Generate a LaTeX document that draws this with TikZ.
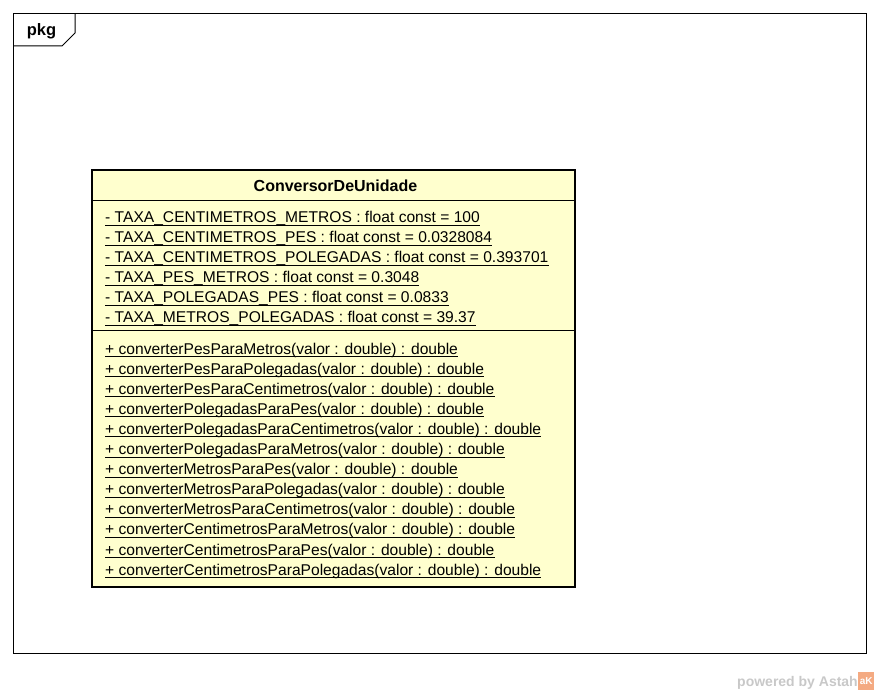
\documentclass[tikz,border=0pt]{standalone}
\usepackage{fontspec}
\setmainfont{Liberation Sans}
\definecolor{classfill}{RGB}{255,255,206}
\definecolor{powergray}{RGB}{200,200,200}
\definecolor{logoorange}{RGB}{244,170,130}
\tikzset{
  pkgframe/.style={draw=black, line width=1pt},
  classbox/.style={draw=black, line width=2pt, fill=classfill},
  sepline/.style={draw=black, line width=1pt},
  member/.style={anchor=base west, inner sep=0pt, font=\fontsize{15.6}{18}\selectfont},
  ulline/.style={draw=black, line width=0.9pt},
}
\begin{document}
\begin{tikzpicture}[x=1pt, y=-1pt]
\useasboundingbox (0,0) rectangle (880,693);
% package frame
\draw[pkgframe] (13.5,13.5) rectangle (866.5,653.5);
\draw[pkgframe] (13.5,46) -- (62,46) -- (75,33) -- (75,13.5);
\node[inner sep=0pt, font=\bfseries\fontsize{16.5}{18}\selectfont] (pkg) at (41.5,31) {pkg};
% class box
\draw[classbox] (92,170) rectangle (575,587);
\coordinate (s1l) at (92,200); \coordinate (s1r) at (575,200);
\coordinate (s2l) at (92,330); \coordinate (s2r) at (575,330);
\draw[sepline] (s1l) -- (s1r);
\draw[sepline] (s2l) -- (s2r);
\node[inner sep=0pt, font=\bfseries\fontsize{16}{18}\selectfont] (title) at (335.5,186) {ConversorDeUnidade};
% attributes
\foreach \t [count=\i] in {
  - TAXA\_CENTIMETROS\_METROS : float const = 100,
  - TAXA\_CENTIMETROS\_PES : float const = 0.0328084,
  - TAXA\_CENTIMETROS\_POLEGADAS : float const = 0.393701,
  - TAXA\_PES\_METROS : float const = 0.3048,
  - TAXA\_POLEGADAS\_PES : float const = 0.0833,
  - TAXA\_METROS\_POLEGADAS : float const = 39.37}{
  \node[member] (a\i) at (105,{222.5+20*(\i-1)}) {\t};
  \draw[ulline] ([yshift=-2.5pt]a\i.base west) -- ([yshift=-2.5pt]a\i.base east);
}
% methods
\foreach \t [count=\i] in {
  + converterPesParaMetros(valor : double) : double,
  + converterPesParaPolegadas(valor : double) : double,
  + converterPesParaCentimetros(valor : double) : double,
  + converterPolegadasParaPes(valor : double) : double,
  + converterPolegadasParaCentimetros(valor : double) : double,
  + converterPolegadasParaMetros(valor : double) : double,
  + converterMetrosParaPes(valor : double) : double,
  + converterMetrosParaPolegadas(valor : double) : double,
  + converterMetrosParaCentimetros(valor : double) : double,
  + converterCentimetrosParaMetros(valor : double) : double,
  + converterCentimetrosParaPes(valor : double) : double,
  + converterCentimetrosParaPolegadas(valor : double) : double}{
  \node[member] (m\i) at (105,{354+20.1*(\i-1)}) {\t};
  \draw[ulline] ([yshift=-2.5pt]m\i.base west) -- ([yshift=-2.5pt]m\i.base east);
}
% watermark
\node[anchor=base east, inner sep=0pt, text=powergray, font=\bfseries\fontsize{14}{16}\selectfont] (pw) at (858,686) {powered by Astah};
\node[anchor=west, inner sep=0pt, fill=logoorange, minimum width=16pt, minimum height=18pt, text=white, font=\bfseries\fontsize{10}{10}\selectfont] (logo) at (858,681) {aK};
\end{tikzpicture}
\end{document}
